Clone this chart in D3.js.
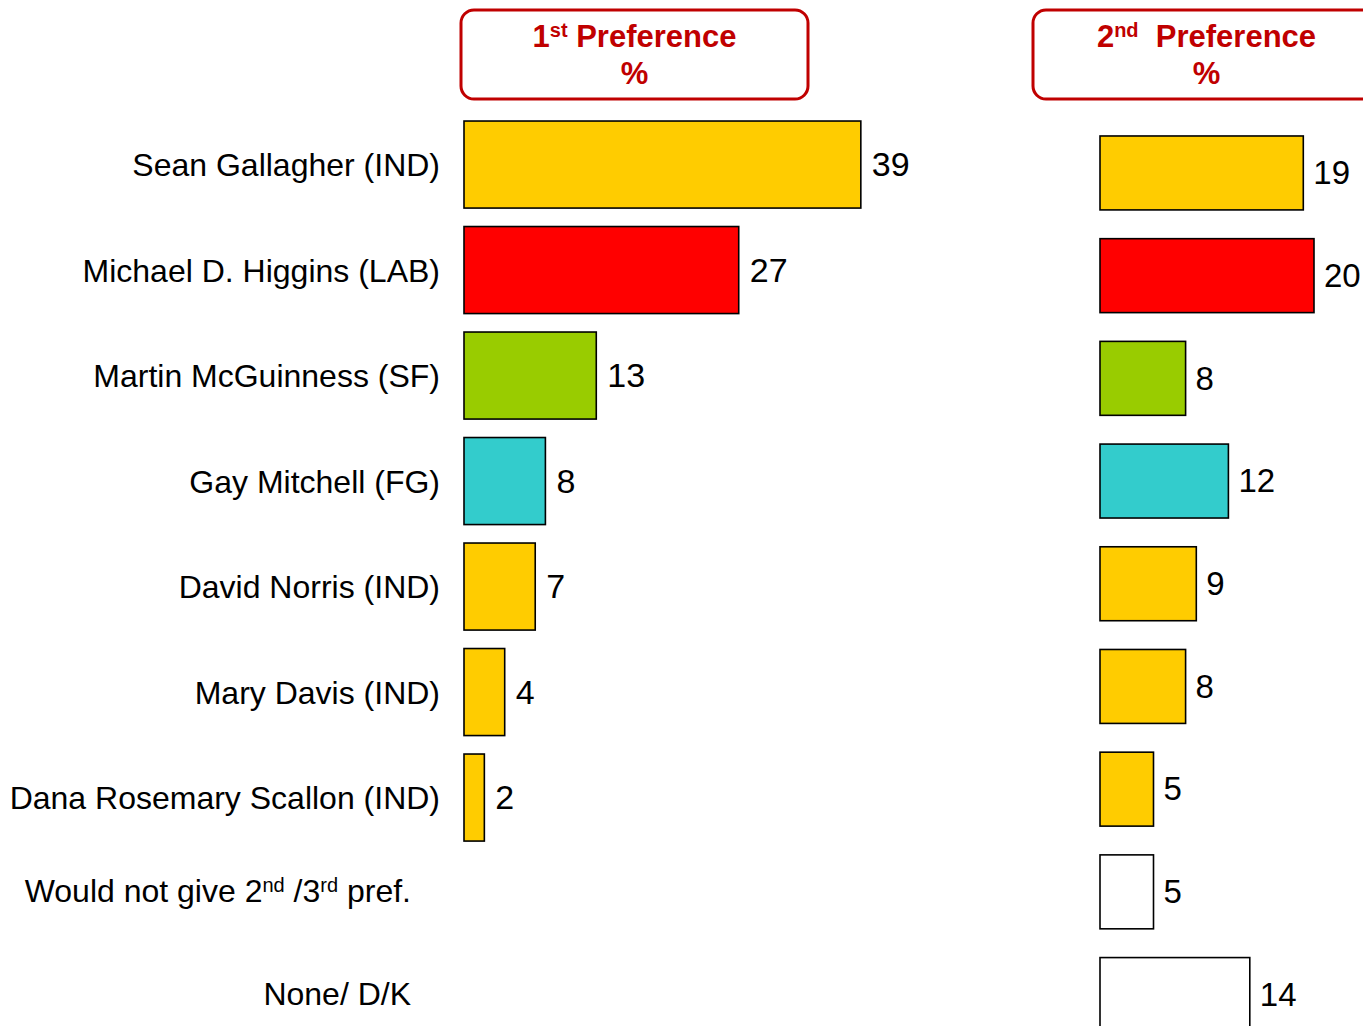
<!DOCTYPE html>
<html><head><meta charset="utf-8">
<script src="https://cdn.jsdelivr.net/npm/d3@7"></script>
<style>
html,body{margin:0;padding:0;background:#fff;}
svg{display:block;}
text{font-family:"Liberation Sans",Arial,Helvetica,sans-serif;}
</style></head>
<body>
<svg id="chart" width="1363" height="1026"></svg>
<script>
// ---- data ----
const categories = [
  "Sean Gallagher (IND)",
  "Michael D. Higgins (LAB)",
  "Martin McGuinness (SF)",
  "Gay Mitchell (FG)",
  "David Norris (IND)",
  "Mary Davis (IND)",
  "Dana Rosemary Scallon (IND)",
  "Would not give 2{nd} /3{rd} pref.",
  "None/ D/K"
];
const parties = ["IND","LAB","SF","FG","IND","IND","IND","",""];
const firstPref = [39,27,13,8,7,4,2,null,null];
const secondPref = [19,20,8,12,9,8,5,5,14];
const headers = [["1{st} Preference","%"],["2{nd}  Preference","%"]];

// ---- styles ----
const partyColor = {IND:"#FFCC00",LAB:"#FF0000",SF:"#99CC00",FG:"#33CCCC","":"#FFFFFF"};
const red = "#C00000";

const svg = d3.select("#chart");

function addRich(textSel, str, supSize, rise){
  const parts = str.split(/(\{[^}]*\})/).filter(s=>s.length);
  let prevSup = false;
  parts.forEach(p=>{
    if (p.startsWith("{")) {
      textSel.append("tspan").attr("dy", -rise).style("font-size",supSize).text(p.slice(1,-1));
      prevSup = true;
    } else {
      const t = textSel.append("tspan").text(p).style("white-space","pre");
      if (prevSup) t.attr("dy", rise);
      prevSup = false;
    }
  });
}

// ---- scales ----
const data = categories.map((c,i)=>({c, party:parties[i], v1:firstPref[i], v2:secondPref[i]}));
const cat1 = categories.filter((c,i)=>firstPref[i]!=null);

const y1 = d3.scaleBand().domain(cat1).range([111.8, 111.8 + 7*105.5]).paddingInner(0.175).paddingOuter(0.0875);
const x1 = d3.scaleLinear().domain([0,40]).range([464, 464+407]);
const y2 = d3.scaleBand().domain(categories).range([121.6, 121.6 + 9*102.7]).paddingInner(0.28).paddingOuter(0.14);
const x2 = d3.scaleLinear().domain([0,20]).range([1100, 1314]);

// ---- header boxes ----
const boxes = [{x:461, w:347, cx:634.5},{x:1033, w:347, cx:1206.5}];
boxes.forEach((b,i)=>{
  svg.append("rect").attr("x",b.x).attr("y",10).attr("width",b.w).attr("height",89)
    .attr("rx",13).attr("ry",13).attr("fill","#fff").attr("stroke",red).attr("stroke-width",3);
  const t1 = svg.append("text").attr("x",b.cx).attr("y",47).attr("text-anchor","middle")
    .attr("fill",red).style("font-weight","bold").style("font-size","31px").style("white-space","pre");
  addRich(t1, headers[i][0], "20px", 10);
  svg.append("text").attr("x",b.cx).attr("y",84).attr("text-anchor","middle")
    .attr("fill",red).style("font-weight","bold").style("font-size","31px").text(headers[i][1]);
});

// ---- category labels ----
data.forEach(d=>{
  const has1 = d.v1 != null;
  const yc = has1 ? y1(d.c) + y1.bandwidth()/2 : y2(d.c) + y2.bandwidth()/2 - 1;
  const t = svg.append("text").attr("x", has1 ? 440 : 411).attr("y", yc)
    .attr("dy","0.36em").attr("text-anchor","end").attr("fill","#000")
    .style("font-size","32px").style("white-space","pre");
  addRich(t, d.c, "20px", 10);
});

// ---- first preference bars ----
const d1 = data.filter(d=>d.v1!=null);
svg.append("g").selectAll("rect").data(d1).join("rect")
  .attr("x", x1(0)).attr("y", d=>y1(d.c))
  .attr("width", d=>x1(d.v1)-x1(0)).attr("height", y1.bandwidth())
  .attr("fill", d=>partyColor[d.party]).attr("stroke","#000").attr("stroke-width",1.6);
svg.append("g").selectAll("text").data(d1).join("text")
  .attr("x", d=>x1(d.v1)+11).attr("y", d=>y1(d.c)+y1.bandwidth()/2)
  .attr("dy","0.34em").style("font-size","34px").attr("fill","#000").text(d=>d.v1);

// ---- second preference bars ----
svg.append("g").selectAll("rect").data(data).join("rect")
  .attr("x", x2(0)).attr("y", d=>y2(d.c))
  .attr("width", d=>x2(d.v2)-x2(0)).attr("height", y2.bandwidth())
  .attr("fill", d=>partyColor[d.party]).attr("stroke","#000").attr("stroke-width",1.6);
svg.append("g").selectAll("text").data(data).join("text")
  .attr("x", d=>x2(d.v2)+10).attr("y", d=>y2(d.c)+y2.bandwidth()/2)
  .attr("dy","0.34em").style("font-size","33px").attr("fill","#000").text(d=>d.v2);
</script>
</body></html>
